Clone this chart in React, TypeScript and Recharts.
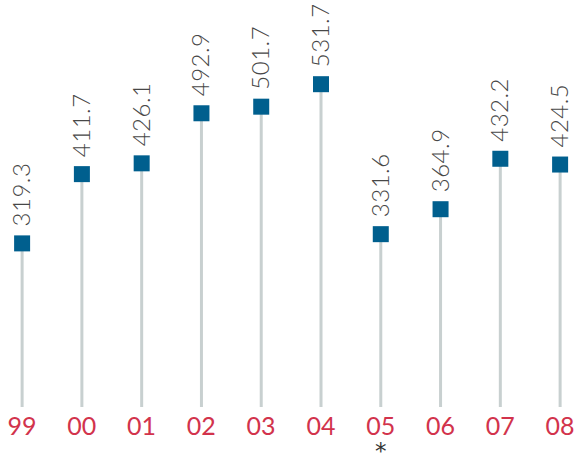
import React from 'react';
import { BarChart, Bar, XAxis, YAxis } from 'recharts';

// Yearly totals, one lollipop per year
const years = ['99', '00', '01', '02', '03', '04', '05', '06', '07', '08'];
const values = [319.3, 411.7, 426.1, 492.9, 501.7, 531.7, 331.6, 364.9, 432.2, 424.5];
const footnotes = ['', '', '', '', '', '', '*', '', '', ''];

const colors = {
    stem: '#c8d0d0',
    marker: '#005f8e',
    value: '#474747',
    year: '#d2334c',
    note: '#333333',
};

const data = years.map((year, i) => ({ idx: i, year, value: values[i] }));

// Stem from baseline up to the value, a square marker on top and the rotated value
const Lollipop = (props: any) => {
    const { x, y, width, height, payload } = props;
    const cx = x + width / 2;
    const size = 16;
    const lx = cx + 8;
    const ly = y - 17;
    return (
        <g>
            <line x1={cx} y1={y} x2={cx} y2={y + height} stroke={colors.stem} strokeWidth={3} />
            <rect x={cx - size / 2} y={y - size / 2} width={size} height={size} fill={colors.marker} />
            <text
                x={lx}
                y={ly}
                transform={`rotate(-90, ${lx}, ${ly})`}
                textAnchor="start"
                fontFamily="Lato, 'Open Sans', sans-serif"
                fontWeight={300}
                fontSize={24}
                letterSpacing={0.5}
                fill={colors.value}
            >
                {payload.value.toFixed(1)}
            </text>
        </g>
    );
};

const YearTick = (props: any) => {
    const { x, y, payload } = props;
    const i = payload.value as number;
    return (
        <g>
            <text x={x} y={y} dy={20} textAnchor="middle" fontFamily="Lato, 'Open Sans', sans-serif" fontSize={25} fill={colors.year}>
                {years[i]}
            </text>
            {footnotes[i] && (
                <text x={x} y={y} dy={44} textAnchor="middle" fontFamily="'DejaVu Sans', sans-serif" fontSize={23} fill={colors.note}>
                    {footnotes[i]}
                </text>
            )}
        </g>
    );
};

const App: React.FC = () => {
    return (
        <div style={{ position: 'absolute', left: 0, top: 0, width: 580, height: 455, background: '#fff' }}>
            <BarChart width={580} height={455} data={data} margin={{ top: 33, right: 20, bottom: 0, left: 22 }}>
                <XAxis
                    dataKey="idx"
                    type="number"
                    domain={[0, 9]}
                    ticks={[0, 1, 2, 3, 4, 5, 6, 7, 8, 9]}
                    interval={0}
                    height={48}
                    axisLine={false}
                    tickLine={false}
                    tick={<YearTick />}
                />
                <YAxis hide domain={[101, 600]} />
                <Bar dataKey="value" barSize={16} shape={<Lollipop />} isAnimationActive={false} />
            </BarChart>
        </div>
    );
};

export default App;
